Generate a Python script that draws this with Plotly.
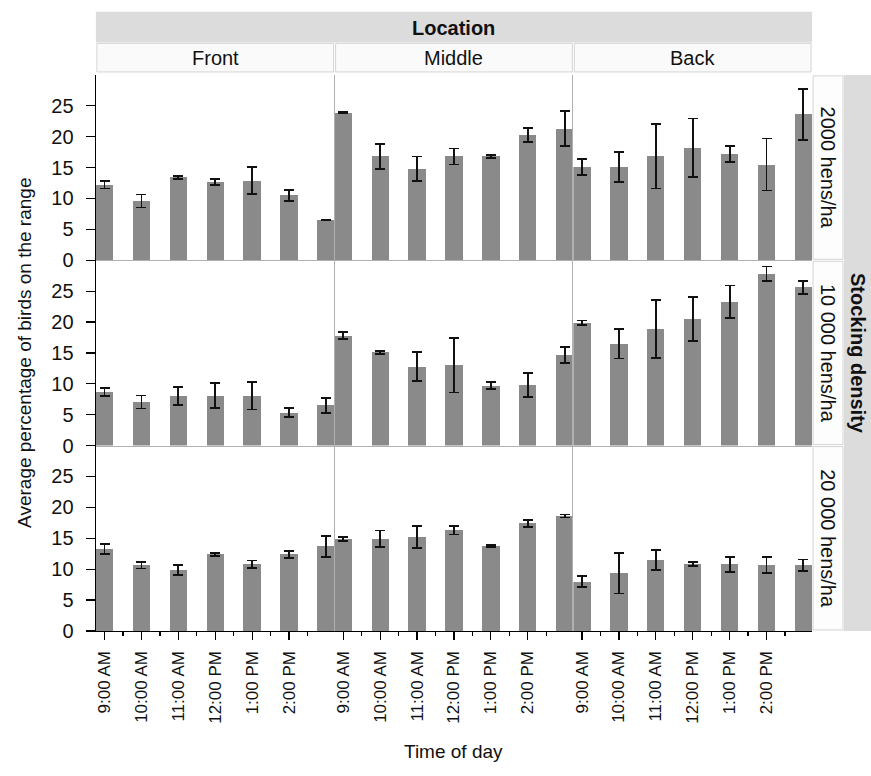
import plotly.graph_objects as go

# ---------------- data ----------------
times = ["9:00 AM", "10:00 AM", "11:00 AM", "12:00 PM", "1:00 PM", "2:00 PM", "3:00 PM"]
tick_labels = ["9:00 AM", "10:00 AM", "11:00 AM", "12:00 PM", "1:00 PM", "2:00 PM"]
locations = ["Front", "Middle", "Back"]
densities = ["2000 hens/ha", "10 000 hens/ha", "20 000 hens/ha"]

# mean values [density][location][time]
d2000_front = [12.2, 9.6, 13.4, 12.7, 12.9, 10.5, 6.5]
d2000_middle = [23.9, 16.8, 14.8, 16.8, 16.8, 20.3, 21.3]
d2000_back = [15.1, 15.1, 16.8, 18.2, 17.2, 15.5, 23.6]
d10000_front = [8.65, 7.05, 8.0, 8.1, 8.1, 5.35, 6.5]
d10000_middle = [17.8, 15.1, 12.8, 13.0, 9.7, 9.8, 14.7]
d10000_back = [19.9, 16.5, 18.9, 20.5, 23.3, 27.8, 25.6]
d20000_front = [13.3, 10.6, 9.9, 12.4, 10.8, 12.4, 13.7]
d20000_middle = [14.9, 14.9, 15.2, 16.3, 13.7, 17.4, 18.6]
d20000_back = [8.0, 9.35, 11.5, 10.8, 10.8, 10.7, 10.6]

# standard errors
e2000_front = [0.6, 1.05, 0.3, 0.5, 2.15, 0.85, 0.0]
e2000_middle = [0.1, 2.0, 2.0, 1.3, 0.2, 1.1, 2.8]
e2000_back = [1.3, 2.45, 5.2, 4.75, 1.3, 4.2, 4.1]
e10000_front = [0.65, 1.05, 1.45, 2.0, 2.25, 0.7, 1.2]
e10000_middle = [0.55, 0.25, 2.3, 4.4, 0.6, 1.9, 1.3]
e10000_back = [0.35, 2.4, 4.7, 3.6, 2.6, 1.2, 1.1]
e20000_front = [0.8, 0.5, 0.8, 0.25, 0.6, 0.6, 1.7]
e20000_middle = [0.3, 1.35, 1.75, 0.7, 0.15, 0.55, 0.25]
e20000_back = [0.9, 3.3, 1.65, 0.35, 1.2, 1.3, 0.95]

means = [[d2000_front, d2000_middle, d2000_back],
         [d10000_front, d10000_middle, d10000_back],
         [d20000_front, d20000_middle, d20000_back]]
errs = [[e2000_front, e2000_middle, e2000_back],
        [e10000_front, e10000_middle, e10000_back],
        [e20000_front, e20000_middle, e20000_back]]

y_ticks = [0, 5, 10, 15, 20, 25]

# ---------------- layout geometry (page pixels) ----------------
W, H = 871, 776
FONT = "Liberation Sans, Arial, sans-serif"
col_x = [(95, 334), (334, 573), (573, 812)]
row_y = [(76, 264), (264, 452), (452, 640)]


def px(x):
    return x / W


def py(y):
    return 1 - y / H


BAR = "#8a8a8a"
TXT = "#111111"
xpos = list(range(len(times)))

fig = go.Figure()
layout = {}
n = 0
for r in range(3):
    for c in range(3):
        n += 1
        sfx = "" if n == 1 else str(n)
        fig.add_trace(go.Bar(
            x=xpos, y=means[r][c],
            width=0.47,
            marker=dict(color=BAR, line=dict(width=0)),
            error_y=dict(type="data", array=errs[r][c], visible=True,
                         color="#111111", thickness=1.8, width=5),
            xaxis="x" + sfx, yaxis="y" + sfx,
            showlegend=False,
            hovertext=[times[i] for i in xpos],
        ))
        bottom = (r == 2)
        left = (c == 0)
        layout["xaxis" + sfx] = dict(
            domain=[px(col_x[c][0]), px(col_x[c][1])],
            anchor="y" + sfx,
            range=[-0.235, 6.235],
            showgrid=False, zeroline=False,
            showline=True,
            linecolor="#000000" if bottom else "#b0b0b0",
            linewidth=1.3 if bottom else 1,
            tickmode="array",
            tickvals=xpos[:6],
            ticktext=tick_labels,
            ticks="outside" if bottom else "",
            ticklen=8, tickwidth=1.2, tickcolor="#000000",
            showticklabels=bottom,
            tickangle=-90,
            ticklabelstandoff=4,
            tickfont=dict(family=FONT, size=17, color=TXT),
            minor=dict(tickvals=[i + 0.5 for i in xpos[:6]],
                       ticks="outside" if bottom else "",
                       ticklen=4, tickwidth=1.2, tickcolor="#000000"),
            fixedrange=True,
        )
        layout["yaxis" + sfx] = dict(
            domain=[py(row_y[r][1]), py(row_y[r][0])],
            anchor="x" + sfx,
            range=[0, 30],
            showgrid=False, zeroline=False,
            showline=True,
            linecolor="#000000" if left else "#b0b0b0",
            linewidth=1.3 if left else 1,
            tickmode="array",
            tickvals=y_ticks,
            ticks="outside" if left else "",
            ticklen=9, tickwidth=1.2, tickcolor="#000000",
            showticklabels=left,
            ticklabelstandoff=8,
            tickfont=dict(family=FONT, size=20, color=TXT),
            fixedrange=True,
        )

shapes = []
annotations = []

# Location header band
shapes.append(dict(type="rect", xref="paper", yref="paper",
                   x0=px(95), x1=px(812), y0=py(43), y1=py(12),
                   fillcolor="#dcdcdc", line=dict(width=0), layer="below"))
annotations.append(dict(text="<b>Location</b>", xref="paper", yref="paper",
                        x=px(453.5), y=py(28), showarrow=False,
                        font=dict(family=FONT, size=20, color=TXT),
                        xanchor="center", yanchor="middle"))
# column strips
for c, name in enumerate(locations):
    shapes.append(dict(type="rect", xref="paper", yref="paper",
                       x0=px(col_x[c][0] + 1), x1=px(col_x[c][1] - 1),
                       y0=py(73), y1=py(44),
                       fillcolor="#fafafa", line=dict(color="#d4d4d4", width=1),
                       layer="below"))
    annotations.append(dict(text=name, xref="paper", yref="paper",
                            x=px((col_x[c][0] + col_x[c][1]) / 2), y=py(59),
                            showarrow=False,
                            font=dict(family=FONT, size=20, color=TXT),
                            xanchor="center", yanchor="middle"))
# row strips
for r, name in enumerate(densities):
    shapes.append(dict(type="rect", xref="paper", yref="paper",
                       x0=px(813), x1=px(843),
                       y0=py(row_y[r][1] - 1), y1=py(row_y[r][0] + 1),
                       fillcolor="#fdfdfd", line=dict(color="#d4d4d4", width=1),
                       layer="below"))
    annotations.append(dict(text=name, xref="paper", yref="paper",
                            x=px(828), y=py((row_y[r][0] + row_y[r][1]) / 2),
                            showarrow=False, textangle=90,
                            font=dict(family=FONT, size=20, color=TXT),
                            xanchor="center", yanchor="middle"))
# Stocking density band
shapes.append(dict(type="rect", xref="paper", yref="paper",
                   x0=px(844), x1=px(871), y0=py(640), y1=py(76),
                   fillcolor="#dcdcdc", line=dict(width=0), layer="below"))
annotations.append(dict(text="<b>Stocking density</b>", xref="paper", yref="paper",
                        x=px(858), y=py(358), showarrow=False, textangle=90,
                        font=dict(family=FONT, size=20, color=TXT),
                        xanchor="center", yanchor="middle"))
# axis titles
annotations.append(dict(text="Average percentage of birds on the range",
                        xref="paper", yref="paper", x=px(24), y=py(358),
                        showarrow=False, textangle=-90,
                        font=dict(family=FONT, size=19, color=TXT),
                        xanchor="center", yanchor="middle"))
annotations.append(dict(text="Time of day", xref="paper", yref="paper",
                        x=px(453.5), y=py(762), showarrow=False,
                        font=dict(family=FONT, size=19, color=TXT),
                        xanchor="center", yanchor="middle"))

fig.update_layout(
    width=W, height=H,
    margin=dict(l=0, r=0, t=0, b=0),
    paper_bgcolor="white", plot_bgcolor="white",
    shapes=shapes, annotations=annotations,
    bargap=0,
    hovermode=False,
    font=dict(family=FONT, color=TXT),
    **layout,
)

fig.write_html(
    "out.html",
    config={"displayModeBar": False, "staticPlot": True},
    post_script=(
        "document.documentElement.style.margin='0';"
        "document.documentElement.style.overflow='hidden';"
        "document.body.style.margin='0';"
        "document.body.style.padding='0';"
        "document.body.style.overflow='hidden';"
    ),
)
